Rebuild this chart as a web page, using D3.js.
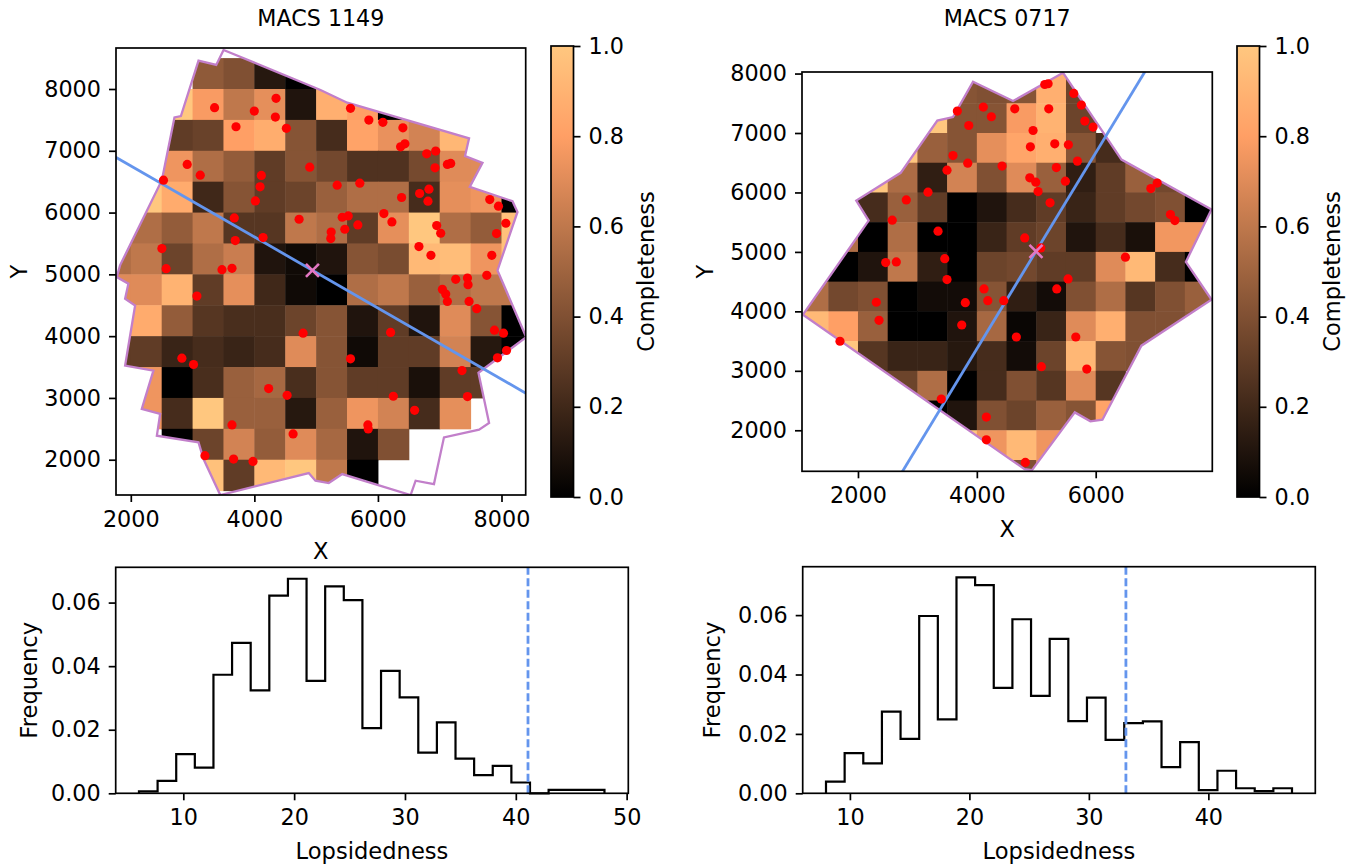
<!DOCTYPE html>
<html><head><meta charset="utf-8">
<script src="https://cdn.jsdelivr.net/npm/d3@7"></script>
<style>body{margin:0;background:#fff} text{font-family:"DejaVu Sans",sans-serif;fill:#000}</style>
</head><body><svg id="c" width="1363" height="866"></svg>
<script>
// ---------------- DATA ----------------
const titles = ["MACS 1149", "MACS 0717"];
const cellSize = 500;

// MACS 1149 completeness grid (rows top->bottom, cols left->right), null = no data
const leftXStarts = [1500,2000,2500,3000,3500,4000,4500,5000,5500,6000,6500,7000,7500,8000];
const leftYStarts = [8000,7500,7000,6500,6000,5500,5000,4500,4000,3500,3000,2500,2000,1500];
const leftCompleteness = [
  [null,null,null,0.45,0.40,0.12,0.00,null,null,null,null,null,null,null],
  [null,null,1.00,0.78,0.60,0.72,0.10,0.88,0.80,0.00,null,null,null,null],
  [null,null,0.30,0.33,0.80,0.87,0.42,0.22,0.82,0.73,0.66,0.92,null,null],
  [null,0.75,0.75,0.55,0.46,0.30,0.42,0.36,0.25,0.25,0.37,0.70,0.70,null],
  [null,1.00,0.86,0.20,0.42,0.30,0.34,0.48,0.55,0.55,0.22,0.72,0.75,0.00],
  [null,0.55,0.46,0.60,0.27,0.27,0.60,0.55,0.30,0.72,1.00,0.55,0.46,0.97],
  [0.55,0.60,0.34,0.55,0.63,0.10,0.05,0.10,0.42,0.38,0.93,0.95,0.75,0.97],
  [0.70,0.70,0.90,0.30,0.72,0.20,0.05,0.00,0.55,0.60,0.48,0.55,0.60,0.60],
  [0.86,0.86,0.46,0.27,0.23,0.23,0.34,0.42,0.10,0.30,0.10,0.70,0.42,0.00],
  [0.30,0.30,0.18,0.22,0.18,0.22,0.70,0.42,0.05,0.30,0.30,0.66,0.12,0.00],
  [null,0.75,0.00,0.23,0.48,0.52,0.23,0.42,0.30,0.30,0.08,0.30,0.30,null],
  [null,0.75,0.22,1.00,0.48,0.48,0.12,0.48,0.75,0.66,0.22,0.72,null,null],
  [null,null,0.00,0.34,0.66,0.46,0.70,0.52,0.10,0.40,null,null,null,null],
  [null,null,null,0.97,0.30,0.93,1.00,0.60,0.00,null,null,null,null,null]
];
const leftOutline = [[3502,8632],[5070,7984],[5503,7778],[7475,7201],[7410,6914],[7692,6805],[7486,6416],[8178,6184],[8259,6010],[7935,5065],[8400,3983],[7627,3406],[7799,2595],[7637,2487],[7069,2362],[6935,1741],[6907,1606],[6610,1660],[6529,1428],[5422,1768],[5204,1622],[4989,1660],[4880,1784],[3448,1428],[3177,2011],[3096,2281],[2422,2389],[2475,2741],[2178,2822],[2366,3443],[1908,3524],[2070,4497],[1908,4606],[1961,4849],[1773,4956],[1826,5146],[2503,6524],[2707,7541],[2811,7562],[3096,8459],[3383,8389]];
const leftPtsX = [3356,3999,4351,4340,3703,4518,2913,3124,2529,4113,4092,4016,4896,3675,4724,3691,4141,2503,2572,3476,3638,3070,4789,2827,3015,4231,4530,3638,4627,3200,3664,3978,5556,5853,6080,6404,6437,6367,6789,6935,6924,7124,7178,5340,5707,6383,6675,6826,6810,7810,7951,6096,6226,5422,5519,5675,5243,5237,5464,6951,7016,8070,7919,6664,6858,7843,7259,7449,7459,7762,7043,7097,7124,7475,7599,7886,8032,8081,7935,7361,7449,6205,5556,6249,6594,5837,5843];
const leftPtsY = [7697,7643,7849,7546,7389,7363,6779,6605,6524,6601,6416,6189,6735,5913,5892,5547,5595,5417,5092,5076,5097,4648,4048,3643,3541,3151,3043,2563,2417,2065,2011,1973,7687,7497,7460,7372,7113,7064,6951,6995,6724,6779,6795,6443,6476,6244,6309,6378,6184,6211,6103,5984,5848,5924,5945,5800,5686,5579,5730,5790,5665,5827,5660,5449,5308,5308,4919,4940,4833,4984,4757,4681,4562,4562,4444,4097,4048,3768,3649,3443,3022,4060,3633,3027,2800,2563,2498];
const leftLineX = [1700, 8500];
const leftLineY = [6930, 3016];
const leftCenter = [4940, 5065];

// MACS 0717 completeness grid
const rightXStarts = [1000,1500,2000,2500,3000,3500,4000,4500,5000,5500,6000,6500,7000,7500];
const rightYStarts = [7500,7000,6500,6000,5500,5000,4500,4000,3500,3000,2500,2000,1500,1000];
const rightCompleteness = [
  [null,null,null,null,null,0.42,0.40,0.42,0.88,0.34,null,null,null,null],
  [null,null,null,null,1.00,0.42,0.42,0.78,0.90,0.34,null,null,null,null],
  [null,null,null,1.00,0.48,0.42,0.72,0.83,0.88,0.42,0.22,null,null,null],
  [null,null,1.00,0.54,0.15,0.66,0.40,0.70,0.48,0.15,0.30,0.48,0.36,null],
  [null,null,0.22,0.48,0.30,0.00,0.10,0.22,0.30,0.18,0.30,0.36,0.40,0.00],
  [null,0.55,0.00,0.55,0.00,0.00,0.18,0.30,0.34,0.10,0.22,0.08,0.76,0.76],
  [0.00,0.00,0.10,0.60,0.15,0.00,0.34,0.36,0.30,0.30,0.70,0.93,0.22,0.00],
  [0.55,0.36,0.40,0.00,0.06,0.06,0.42,0.15,0.06,0.40,0.55,0.27,0.40,0.48],
  [0.93,0.80,0.48,0.00,0.00,0.10,0.52,0.03,0.18,0.70,0.88,0.40,0.40,0.45],
  [null,1.00,0.27,0.18,0.18,0.12,0.22,0.06,0.34,0.92,0.42,0.40,null,null],
  [null,null,0.30,0.34,0.55,0.00,0.22,0.40,0.27,0.70,0.27,null,null,null],
  [null,null,null,null,0.00,0.10,0.40,0.34,0.48,0.42,0.82,null,null,null],
  [null,null,null,null,null,1.00,0.75,0.93,0.75,null,null,null,null,null],
  [null,null,null,null,null,null,null,0.40,0.75,null,null,null,null,null]
];
const rightOutline = [[3936,7862],[4609,7537],[5451,8013],[6433,6554],[7948,5712],[7517,4832],[7948,4197],[6769,3423],[6113,2177],[5911,2150],[5648,2301],[4929,1330],[4803,1347],[1074,3944],[2180,5527],[1971,5864],[2719,6330],[3335,7210],[3599,7268]];
const rightPtsX = [3672,4109,4244,3864,3599,3847,3498,4424,3178,2813,2577,3347,3460,2466,2645,5143,5199,5631,5759,4638,5210,4946,5817,5956,4901,5311,5540,5338,5692,4891,4992,5490,5030,5232,7034,6928,7258,7332,4806,5076,6500,3498,4121,2308,3806,4184,4453,2354,3746,1697,3402,4160,4160,5535,5345,4665,5665,5086,5850,4816];
const rightPtsY = [7369,7436,7273,7126,6621,6493,6375,6443,6005,5875,5534,5348,4887,4820,4832,7816,7828,7665,7470,7407,7407,7042,7200,7099,6768,6818,6801,6419,6527,6246,6173,6190,6015,5825,6157,6066,5628,5527,5236,5067,4911,4534,4377,4153,4146,4180,4180,3850,3771,3497,2525,2222,1840,4545,4377,3569,3569,3069,3030,1460];
const rightLineX = [2600, 7000];
const rightLineY = [1063, 8314];
const rightCenter = [4995, 5010];

// Histograms
const leftBinEdges = [6,7.68,9.36,11.04,12.72,14.4,16.08,17.76,19.44,21.12,22.8,24.48,26.16,27.84,29.52,31.2,32.88,34.56,36.24,37.92,39.6,41.28,42.96,44.64,46.32,48];
const leftFreq = [0.0006,0.0039,0.0123,0.0081,0.0373,0.0473,0.0324,0.0622,0.0675,0.0354,0.0651,0.0608,0.0205,0.0385,0.0302,0.0128,0.0223,0.0109,0.0057,0.0086,0.0034,0,0.0011,0.0011,0.0011];
const leftObserved = 41.1;
const rightBinEdges = [8,9.56,11.12,12.68,14.24,15.8,17.36,18.92,20.48,22.04,23.6,25.16,26.72,28.28,29.84,31.4,32.96,34.52,36.08,37.64,39.2,40.76,42.32,43.88,45.44,47];
const rightFreq = [0.0039,0.0135,0.0101,0.0275,0.0183,0.0597,0.0249,0.0727,0.0701,0.0355,0.0586,0.0328,0.052,0.0243,0.0322,0.018,0.0236,0.0242,0.0088,0.0172,0.0011,0.0076,0.0017,0.0007,0.0017];
const rightObserved = 33.1;

const heatXTicksLeft = [2000,4000,6000,8000];
const heatXTicksRight = [2000,4000,6000];
const heatYTicks = [2000,3000,4000,5000,6000,7000,8000];
const cbTicks = [0,0.2,0.4,0.6,0.8,1.0];
const histYTicks = [0,0.02,0.04,0.06];
const histXTicksLeft = [10,20,30,40,50];
const histXTicksRight = [10,20,30,40];

// ---------------- DRAW ----------------
const svg = d3.select('#c');
svg.append('rect').attr('width',1363).attr('height',866).attr('fill','#fff');
const defs = svg.append('defs');
const TICK_FS = 22.3, LABEL_FS = 22.6, TITLE_FS = 22.2;

function copper(v){
  const r = Math.min(1, 1.25*v), g = 0.7812*v, b = 0.4975*v;
  return d3.rgb(r*255, g*255, b*255).toString();
}
function styleAxis(g){
  g.select('.domain').remove();
  g.selectAll('line').attr('stroke','#000').attr('stroke-width',1.7);
  g.selectAll('text').attr('font-size',TICK_FS).attr('fill','#000').attr('font-family','DejaVu Sans');
}
function frame(L,T,R,B){
  svg.append('rect').attr('x',L).attr('y',T).attr('width',R-L).attr('height',B-T)
    .attr('fill','none').attr('stroke','#000').attr('stroke-width',1.7);
}
function label(txt, x, y, rot){
  const t = svg.append('text').attr('x',x).attr('y',y).attr('text-anchor','middle')
    .attr('dominant-baseline','central').attr('font-size',LABEL_FS).text(txt);
  if (rot) t.attr('transform',`rotate(-90,${x},${y})`);
  return t;
}

function drawHeat(c){
  const x = d3.scaleLinear().domain(c.xdom).range([c.L, c.R]);
  const y = d3.scaleLinear().domain(c.ydom).range([c.B, c.T]);
  defs.append('clipPath').attr('id',c.id+'ax').append('rect')
    .attr('x',c.L).attr('y',c.T).attr('width',c.R-c.L).attr('height',c.B-c.T);
  const line = d3.line().x(d=>x(d[0])).y(d=>y(d[1]));
  defs.append('clipPath').attr('id',c.id+'poly').append('path').attr('d', line(c.outline)+'Z');
  const gAx = svg.append('g').attr('clip-path',`url(#${c.id}ax)`);
  const gCells = gAx.append('g').attr('clip-path',`url(#${c.id}poly)`);
  c.grid.forEach((row,ri)=>row.forEach((v,ci)=>{
    if (v === null) return;
    const x0 = c.xs[ci], y0 = c.ys[ri];
    gCells.append('rect')
      .attr('x', x(x0)).attr('y', y(y0+cellSize))
      .attr('width', x(x0+cellSize)-x(x0)+0.5).attr('height', y(y0)-y(y0+cellSize)+0.5)
      .attr('fill', copper(v));
  }));
  gAx.append('path').attr('d', line(c.outline)+'Z').attr('fill','none')
    .attr('stroke','#c27fca').attr('stroke-width',2.3).attr('stroke-linejoin','miter');
  gAx.append('line').attr('x1',x(c.lx[0])).attr('y1',y(c.ly[0])).attr('x2',x(c.lx[1])).attr('y2',y(c.ly[1]))
    .attr('stroke','#6495ed').attr('stroke-width',2.8);
  c.px.forEach((px,i)=>{
    gAx.append('circle').attr('cx',x(px)).attr('cy',y(c.py[i])).attr('r',4.6).attr('fill','#ff0000');
  });
  const cx = x(c.center[0]), cy = y(c.center[1]), s = 6.5;
  gAx.append('path').attr('d',`M${cx-s},${cy-s}L${cx+s},${cy+s}M${cx-s},${cy+s}L${cx+s},${cy-s}`)
    .attr('stroke','#e377c2').attr('stroke-width',2.6);
  frame(c.L,c.T,c.R,c.B);
  const gx = svg.append('g').attr('transform',`translate(0,${c.B})`)
    .call(d3.axisBottom(x).tickValues(c.xticks).tickSize(7).tickPadding(9).tickFormat(d3.format('d')));
  styleAxis(gx);
  const gy = svg.append('g').attr('transform',`translate(${c.L},0)`)
    .call(d3.axisLeft(y).tickValues(heatYTicks).tickSize(7).tickPadding(8).tickFormat(d3.format('d')));
  styleAxis(gy);
  svg.append('text').attr('x',(c.L+c.R)/2).attr('y',18).attr('text-anchor','middle')
    .attr('dominant-baseline','central').attr('font-size',TITLE_FS).text(c.title);
  label('X', (c.L+c.R)/2, c.xlabY, false);
  label('Y', c.ylabX, (c.T+c.B)/2, true);
}

function drawColorbar(id, L, R, T, B, labX){
  const grad = defs.append('linearGradient').attr('id',id).attr('x1',0).attr('y1',1).attr('x2',0).attr('y2',0);
  d3.range(0,1.0001,0.05).forEach(v=>grad.append('stop').attr('offset',v).attr('stop-color',copper(v)));
  svg.append('rect').attr('x',L).attr('y',T).attr('width',R-L).attr('height',B-T).attr('fill',`url(#${id})`);
  frame(L,T,R,B);
  const s = d3.scaleLinear().domain([0,1]).range([B,T]);
  const g = svg.append('g').attr('transform',`translate(${R},0)`)
    .call(d3.axisRight(s).tickValues(cbTicks).tickSize(7).tickPadding(8).tickFormat(d3.format('.1f')));
  styleAxis(g);
  label('Completeness', labX, (T+B)/2, true);
}

function drawHist(c){
  const x = d3.scaleLinear().domain(c.xdom).range([c.L, c.R]);
  const y = d3.scaleLinear().domain(c.ydom).range([c.B, c.T]);
  const pts = [[c.edges[0],0]];
  c.freq.forEach((f,i)=>{ pts.push([c.edges[i],f]); pts.push([c.edges[i+1],f]); });
  pts.push([c.edges[c.edges.length-1],0]);
  svg.append('path').attr('d', d3.line().x(d=>x(d[0])).y(d=>y(d[1]))(pts))
    .attr('fill','none').attr('stroke','#000').attr('stroke-width',2.2).attr('stroke-linejoin','miter');
  svg.append('line').attr('x1',x(c.obs)).attr('x2',x(c.obs)).attr('y1',c.B).attr('y2',c.T)
    .attr('stroke','#6495ed').attr('stroke-width',2.8).attr('stroke-dasharray','8,3.5');
  frame(c.L,c.T,c.R,c.B);
  const gx = svg.append('g').attr('transform',`translate(0,${c.B})`)
    .call(d3.axisBottom(x).tickValues(c.xticks).tickSize(7).tickPadding(9).tickFormat(d3.format('d')));
  styleAxis(gx);
  const gy = svg.append('g').attr('transform',`translate(${c.L},0)`)
    .call(d3.axisLeft(y).tickValues(histYTicks).tickSize(7).tickPadding(8).tickFormat(d3.format('.2f')));
  styleAxis(gy);
  label('Lopsidedness', (c.L+c.R)/2, 851, false);
  label('Frequency', c.ylabX, (c.T+c.B)/2, true);
}

drawHeat({id:'hl', title:titles[0], L:116, R:525.7, T:48, B:495, xdom:[1760.5,8391.7], ydom:[1429,8663.6],
  grid:leftCompleteness, xs:leftXStarts, ys:leftYStarts, outline:leftOutline, px:leftPtsX, py:leftPtsY,
  lx:leftLineX, ly:leftLineY, center:leftCenter, xticks:heatXTicksLeft, xlabY:551, ylabX:19});
drawHeat({id:'hr', title:titles[1], L:802, R:1212.3, T:72, B:471.3, xdom:[1058,7962], ydom:[1310,8026],
  grid:rightCompleteness, xs:rightXStarts, ys:rightYStarts, outline:rightOutline, px:rightPtsX, py:rightPtsY,
  lx:rightLineX, ly:rightLineY, center:rightCenter, xticks:heatXTicksRight, xlabY:529, ylabX:705});
drawColorbar('cbl', 551, 573.5, 46, 497, 646);
drawColorbar('cbr', 1237, 1259.5, 46, 497, 1332);
drawHist({L:115.7, R:628.3, T:567.3, B:793.3, xdom:[3.9,50.15], ydom:[0,0.0711], edges:leftBinEdges, freq:leftFreq,
  obs:leftObserved, xticks:histXTicksLeft, ylabX:29});
drawHist({L:802.7, R:1315.3, T:566.7, B:793.3, xdom:[6.05,48.95], ydom:[0,0.0763], edges:rightBinEdges, freq:rightFreq,
  obs:rightObserved, xticks:histXTicksRight, ylabX:712});
</script></body></html>
